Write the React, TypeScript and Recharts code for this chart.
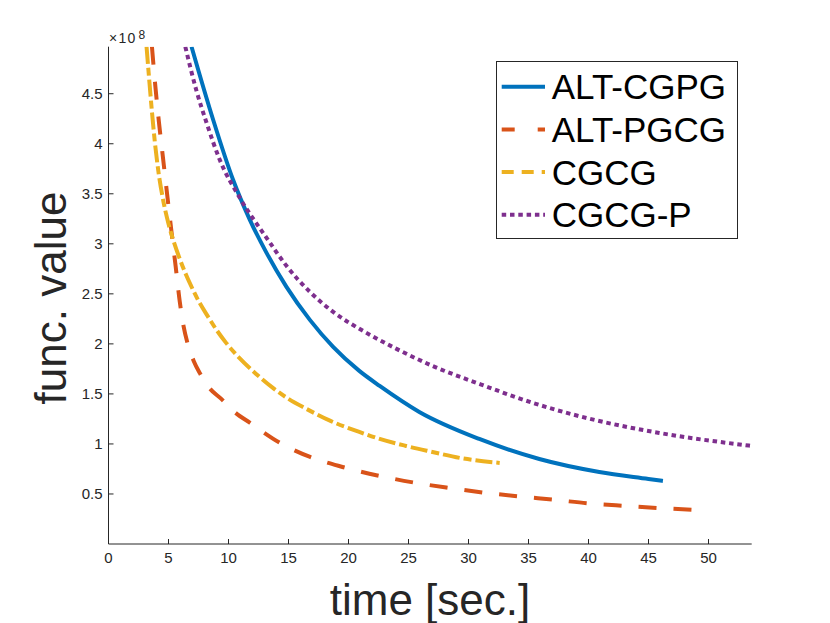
import React from 'react';
import { LineChart, Line, XAxis, YAxis, Legend, Label } from 'recharts';

// time [sec.]
const altCgpgTime = [6.92, 8.72, 10.38, 11.78, 13.17, 14.83, 16.78, 18.72, 20.9, 22.6, 25.9, 30.9, 35.9, 40.9, 45.0, 46.2];
// func. value (x 10^8)
const altCgpgValue = [4.97, 4.24, 3.64, 3.24, 2.91, 2.57, 2.24, 1.97, 1.73, 1.58, 1.32, 1.05, 0.85, 0.72, 0.65, 0.63];

const altPgcgTime = [3.62, 3.9, 4.2, 4.55, 4.9, 5.25, 5.6, 5.94, 6.25, 6.6, 7.1, 7.6, 8.4, 9.4, 10.5, 11.8, 14.3, 16.8, 19.5, 22.6, 25.4, 28.4, 31.5, 34.3, 37.3, 40.1, 43.2, 46.5, 49.7];
const altPgcgValue = [4.97, 4.58, 4.22, 3.85, 3.48, 3.12, 2.77, 2.42, 2.18, 2.0, 1.83, 1.71, 1.56, 1.45, 1.32, 1.21, 1.01, 0.87, 0.77, 0.68, 0.615, 0.56, 0.51, 0.475, 0.44, 0.405, 0.38, 0.355, 0.335];

const cgcgTime = [3.17, 3.4, 3.62, 3.86, 4.15, 4.55, 5.0, 5.5, 6.0, 6.5, 7.0, 7.5, 8.2, 9.0, 9.8, 10.9, 12.3, 13.7, 15.0, 16.5, 18.5, 20.9, 22.6, 24.8, 27.0, 29.3, 32.6];
const cgcgValue = [4.97, 4.63, 4.32, 4.02, 3.73, 3.44, 3.2, 3.0, 2.83, 2.68, 2.55, 2.43, 2.29, 2.14, 2.01, 1.86, 1.7, 1.56, 1.45, 1.35, 1.23, 1.12, 1.05, 0.98, 0.92, 0.86, 0.81];

const cgcgPTime = [6.4, 7.33, 8.17, 9.27, 10.94, 13.17, 14.83, 16.78, 18.72, 21.5, 24.0, 27.0, 30.9, 35.9, 40.5, 45.9, 53.6];
const cgcgPValue = [4.97, 4.53, 4.21, 3.84, 3.46, 3.06, 2.78, 2.52, 2.32, 2.11, 1.95, 1.78, 1.6, 1.39, 1.24, 1.11, 0.98];

const seriesNames = ['ALT-CGPG', 'ALT-PGCG', 'CGCG', 'CGCG-P'];
const xTicks = [0, 5, 10, 15, 20, 25, 30, 35, 40, 45, 50];
const yTicks = [0.5, 1, 1.5, 2, 2.5, 3, 3.5, 4, 4.5];
const xDomain = [0, 53.6];
const yDomain = [0, 4.97];

const toPoints = (t: number[], v: number[]) => t.map((x, i) => ({ t: x, v: v[i] }));

const series = [
  { name: seriesNames[0], data: toPoints(altCgpgTime, altCgpgValue), color: '#0072BD', dash: undefined as string | undefined, legendDash: undefined as string | undefined },
  { name: seriesNames[1], data: toPoints(altPgcgTime, altPgcgValue), color: '#D95319', dash: '18 17', legendDash: '13 23' },
  { name: seriesNames[2], data: toPoints(cgcgTime, cgcgValue), color: '#EDB120', dash: '17 4 8 4', legendDash: '12 8' },
  { name: seriesNames[3], data: toPoints(cgcgPTime, cgcgPValue), color: '#7E2F8E', dash: '4.5 3.8', legendDash: '4.5 3.8' },
];

const FONT = '"Liberation Sans", Arial, Helvetica, sans-serif';
const AXIS = '#262626';

const LegendBox = () => (
  <svg width={242} height={178} style={{ display: 'block' }}>
    <rect x={0.5} y={0.5} width={241} height={177} fill="#fff" stroke={AXIS} strokeWidth={1} />
    {series.map((s, i) => {
      const cy = 25.7 + i * 42.7;
      return (
        <g key={s.name}>
          <line x1={5.7} x2={49} y1={cy} y2={cy} stroke={s.color} strokeWidth={4} strokeDasharray={s.legendDash} />
          <text x={55.7} y={cy + 12.5} fontSize={35} fontFamily={FONT} fill="#000">
            {s.name}
          </text>
        </g>
      );
    })}
  </svg>
);

const XTick = (props: any) => {
  const { x, y, payload } = props;
  return (
    <text x={x} y={y} dy="0.71em" textAnchor="middle" fontSize={15} fontFamily={FONT} fill={AXIS}>
      {payload.value}
    </text>
  );
};

const YTick = (props: any) => {
  const { x, y, payload } = props;
  return (
    <text x={x} y={y} dy="0.355em" textAnchor="end" fontSize={15} fontFamily={FONT} fill={AXIS}>
      {payload.value}
    </text>
  );
};

export default function App() {
  return (
    <div style={{ position: 'absolute', left: 0, top: 0 }}>
      <LineChart
        width={830}
        height={623}
        margin={{ top: 46.7, right: 78.3, bottom: 49, left: 48.5 }}
      >
        <XAxis
          xAxisId="bottom"
          dataKey="t"
          type="number"
          domain={xDomain}
          allowDataOverflow
          ticks={xTicks}
          height={30}
          tickSize={-5}
          tickMargin={13.5}
          stroke={AXIS}
          tick={<XTick />}
          axisLine={{ stroke: AXIS }}
          tickLine={{ stroke: AXIS }}
        >
          <Label
            content={(props: any) => {
              const vb = props.viewBox || {};
              return (
                <text x={430} y={vb.y + 71} textAnchor="middle" fontSize={44} fontFamily={FONT} fill={AXIS}>
                  time [sec.]
                </text>
              );
            }}
          />
        </XAxis>
        <XAxis
          xAxisId="top"
          orientation="top"
          dataKey="t"
          type="number"
          domain={xDomain}
          allowDataOverflow
          ticks={xTicks}
          height={0}
          tickSize={-5}
          tick={false}
          stroke={AXIS}
          axisLine={{ stroke: AXIS }}
          tickLine={{ stroke: AXIS }}
        />
        <YAxis
          yAxisId="left"
          type="number"
          domain={yDomain}
          allowDataOverflow
          ticks={yTicks}
          width={60}
          tickSize={-5}
          tickMargin={11}
          stroke={AXIS}
          tick={<YTick />}
          axisLine={{ stroke: AXIS }}
          tickLine={{ stroke: AXIS }}
        >
          <Label
            content={(props: any) => {
              const vb = props.viewBox || {};
              const x0 = vb.x + vb.width;
              const y0 = vb.y;
              return (
                <g>
                  <text x={x0 + 0.5} y={y0 - 4} fontSize={14} letterSpacing={1.3} fontFamily={FONT} fill={AXIS}>
                    ×10
                  </text>
                  <text x={x0 + 30} y={y0 - 7.5} fontSize={12} fontFamily={FONT} fill={AXIS}>
                    8
                  </text>
                  <text
                    x={66}
                    y={298}
                    transform="rotate(-90 66 298)"
                    textAnchor="middle"
                    fontSize={44}
                    fontFamily={FONT}
                    fill={AXIS}
                  >
                    func. value
                  </text>
                </g>
              );
            }}
          />
        </YAxis>
        <YAxis
          yAxisId="right"
          orientation="right"
          type="number"
          domain={yDomain}
          allowDataOverflow
          ticks={yTicks}
          width={0}
          tickSize={-5}
          tick={false}
          stroke={AXIS}
          axisLine={{ stroke: AXIS }}
          tickLine={{ stroke: AXIS }}
        />
        {series.map((s) => (
          <Line
            key={s.name}
            xAxisId="bottom"
            yAxisId="left"
            data={s.data}
            dataKey="v"
            name={s.name}
            type="monotone"
            stroke={s.color}
            strokeWidth={4}
            strokeDasharray={s.dash}
            dot={false}
            activeDot={false}
            isAnimationActive={false}
          />
        ))}
        <Legend
          layout="vertical"
          align="center"
          verticalAlign="middle"
          content={() => <LegendBox />}
          wrapperStyle={{ position: 'absolute', top: 60.5, left: 495.5, width: 'auto', height: 'auto' }}
        />
      </LineChart>
    </div>
  );
}
